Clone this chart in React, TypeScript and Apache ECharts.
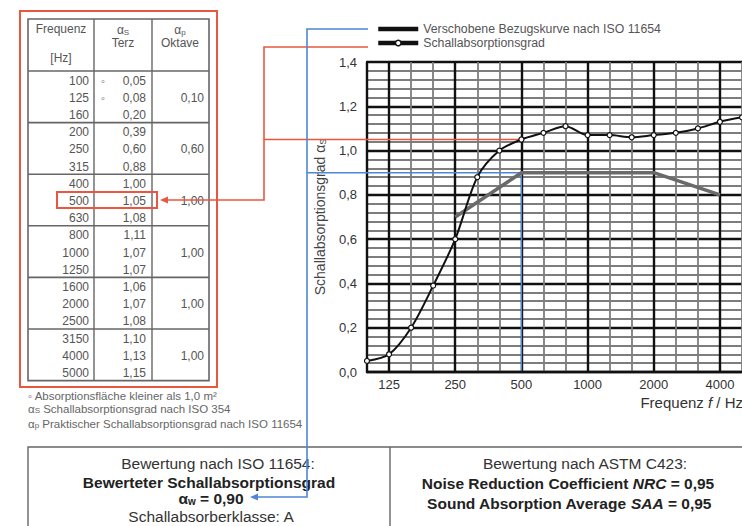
import React, { useEffect, useRef } from "react";
import * as echarts from "echarts";

// ---- data ----
const FREQS = ["100", "125", "160", "200", "250", "315", "400", "500", "630", "800", "1000", "1250", "1600", "2000", "2500", "3150", "4000", "5000"];
const ALPHA_S = [0.05, 0.08, 0.2, 0.39, 0.6, 0.88, 1.0, 1.05, 1.08, 1.11, 1.07, 1.07, 1.06, 1.07, 1.08, 1.1, 1.13, 1.15];
const SMALL_AREA = ["100", "125"];
const OCTAVE_FREQS = ["125", "250", "500", "1000", "2000", "4000"];
const ALPHA_P = [0.1, 0.6, 1.0, 1.0, 1.0, 1.0];
const REF_FREQS = ["250", "500", "1000", "2000", "4000"];
const REF_SHIFTED = [0.7, 0.9, 0.9, 0.9, 0.8];
const Y_MIN = 0;
const Y_MAX = 1.4;
const Y_STEP = 0.2;
const ALPHA_W = 0.9;
const NRC = 0.95;
const SAA = 0.95;
const HIGHLIGHT_FREQ = "500";
const REF_NAME = "Verschobene Bezugskurve nach ISO 11654";
const MEAS_NAME = "Schallabsorptionsgrad";

const FONT = "Liberation Sans, Arial, Helvetica, sans-serif";
const RED = "#e9573f";
const BLUE = "#4f86d6";

const f2 = (v: number) => v.toFixed(2).replace(".", ",");

export default function App() {
  const ref = useRef<HTMLDivElement>(null);

  useEffect(() => {
    if (!ref.current) return;
    const chart = echarts.init(ref.current, null, { renderer: "svg" });
    const octIdx = OCTAVE_FREQS.map((f) => FREQS.indexOf(f));

    chart.setOption({
      animation: false,
      textStyle: { fontFamily: FONT },
      grid: { left: 367, top: 62, width: 376, height: 310 },
      legend: {
        orient: "vertical",
        left: 376,
        top: 23,
        padding: 0,
        itemWidth: 40,
        itemHeight: 7,
        itemGap: 2,
        selectedMode: false,
        textStyle: { fontSize: 12.3, color: "#555", fontFamily: FONT },
        data: [
          { name: REF_NAME, lineStyle: { color: "#111", width: 4.5 }, itemStyle: { color: "#111", opacity: 0 } },
          { name: MEAS_NAME, lineStyle: { color: "#111", width: 4.5 }, itemStyle: { color: "#fff", borderColor: "#111", borderWidth: 1.5 } },
        ],
      },
      xAxis: [
        {
          type: "category",
          data: FREQS,
          boundaryGap: false,
          axisLine: { show: true, lineStyle: { color: "#111", width: 2.4 } },
          axisTick: { show: false },
          axisLabel: {
            interval: (i: number) => octIdx.includes(i),
            fontSize: 13,
            color: "#333",
            margin: 6,
            fontFamily: FONT,
          },
          splitLine: {
            show: true,
            interval: (i: number) => octIdx.includes(i),
            lineStyle: { color: "#111", width: 2.4 },
          },
          z: 1,
        },
        {
          type: "category",
          data: FREQS,
          boundaryGap: false,
          position: "top",
          axisLine: { show: false },
          axisTick: { show: false },
          axisLabel: { show: false },
          splitLine: {
            show: true,
            interval: (i: number) => !octIdx.includes(i),
            lineStyle: { color: "#7d7d7d", width: 1.8 },
          },
          z: 0,
        },
      ],
      yAxis: {
        type: "value",
        min: Y_MIN,
        max: Y_MAX,
        interval: Y_STEP,
        name: "{a|Schallabsorptionsgrad α}{s|S}",
        nameLocation: "middle",
        nameRotate: 90,
        nameGap: 40,
        nameTextStyle: {
          rich: {
            a: { fontSize: 14, color: "#444", fontFamily: FONT },
            s: { fontSize: 9, color: "#444", fontFamily: FONT, padding: [6, 0, 0, 0] },
          },
        },
        axisLine: { show: true, lineStyle: { color: "#111", width: 2.4 } },
        axisTick: { show: false },
        axisLabel: {
          fontSize: 13,
          color: "#333",
          margin: 10,
          fontFamily: FONT,
          formatter: (v: number) => v.toFixed(1).replace(".", ","),
        },
        splitLine: { show: true, lineStyle: { color: "#111", width: 2.4 } },
        minorTick: { show: false, splitNumber: 5 },
        minorSplitLine: { show: true, lineStyle: { color: "#7d7d7d", width: 1.8 } },
      },
      series: [
        {
          name: REF_NAME,
          type: "line",
          data: REF_FREQS.map((f, i) => [FREQS.indexOf(f), REF_SHIFTED[i]]),
          symbol: "none",
          color: "#6a6a6a",
          lineStyle: { color: "#6a6a6a", width: 3.5 },
          z: 3,
        },
        {
          name: MEAS_NAME,
          type: "line",
          data: ALPHA_S,
          smooth: 0.3,
          symbol: "circle",
          symbolSize: 5,
          color: "#111",
          itemStyle: { color: "#fff", borderColor: "#111", borderWidth: 1.2 },
          lineStyle: { color: "#111", width: 2 },
          z: 4,
        },
      ],
    });

    const hi = FREQS.indexOf(HIGHLIGHT_FREQ);
    const pW = chart.convertToPixel({ xAxisIndex: 0, yAxisIndex: 0 }, [hi, ALPHA_W]) as number[];
    const pS = chart.convertToPixel({ xAxisIndex: 0, yAxisIndex: 0 }, [hi, ALPHA_S[hi]]) as number[];
    const p0 = chart.convertToPixel({ xAxisIndex: 0, yAxisIndex: 0 }, [hi, Y_MIN]) as number[];

    // ---- table ----
    const T = { left: 28, right: 209, c1: 94, c2: 152, top: 19, head: 71, rowH: 17.2 };
    const bottom = T.head + FREQS.length * T.rowH;
    const tcol = "#555";
    const gfx: any[] = [];
    const txt = (x: number, y: number, text: string, o: any = {}) => ({
      type: "text",
      x,
      y,
      z: 5,
      style: {
        text,
        fill: o.fill || tcol,
        fontSize: o.fontSize || 12,
        fontFamily: FONT,
        fontWeight: o.fontWeight || "normal",
        align: o.align || "center",
        verticalAlign: "middle",
        lineHeight: o.lineHeight,
        rich: o.rich,
      },
    });
    const ln = (x1: number, y1: number, x2: number, y2: number, stroke: string, w: number, z = 5) => ({
      type: "line",
      z,
      shape: { x1, y1, x2, y2 },
      style: { stroke, lineWidth: w },
    });

    gfx.push({ type: "rect", z: 5, shape: { x: 20, y: 11, width: 197, height: 376 }, style: { fill: "none", stroke: RED, lineWidth: 2 } });
    gfx.push({ type: "rect", z: 5, shape: { x: T.left, y: T.top, width: T.right - T.left, height: bottom - T.top }, style: { fill: "none", stroke: "#666", lineWidth: 1.6 } });
    gfx.push(ln(T.c1, T.top, T.c1, bottom, "#666", 1.4));
    gfx.push(ln(T.c2, T.top, T.c2, bottom, "#666", 1.4));
    gfx.push(ln(T.left, T.head, T.right, T.head, "#666", 1.6));
    for (let g = 1; g < FREQS.length / 3; g++) {
      const y = T.head + g * 3 * T.rowH;
      gfx.push(ln(T.left, y, T.right, y, "#666", 1.6));
    }
    const subRich = {
      a: { fontSize: 12, fill: tcol, fontFamily: FONT },
      s: { fontSize: 8, fill: tcol, fontFamily: FONT, padding: [5, 0, 0, 0] },
    };
    gfx.push(txt(61, 29, "Frequenz"));
    gfx.push(txt(61, 58, "[Hz]"));
    gfx.push(txt(123, 30, "{a|α}{s|S}", { rich: subRich }));
    gfx.push(txt(123, 43, "Terz"));
    gfx.push(txt(180, 30, "{a|α}{s|p}", { rich: subRich }));
    gfx.push(txt(180, 43, "Oktave"));
    FREQS.forEach((f, i) => {
      const y = T.head + (i + 0.5) * T.rowH + 1;
      gfx.push(txt(89, y, f, { align: "right" }));
      gfx.push(txt(146, y, f2(ALPHA_S[i]), { align: "right" }));
      if (SMALL_AREA.includes(f)) gfx.push(txt(103, y, "◦", { fontSize: 11 }));
      const oi = OCTAVE_FREQS.indexOf(f);
      if (oi >= 0) gfx.push(txt(204, y, f2(ALPHA_P[oi]), { align: "right" }));
    });
    const hy = T.head + hi * T.rowH + 0.5;
    gfx.push({ type: "rect", z: 6, shape: { x: 57, y: hy, width: 100, height: T.rowH - 1 }, style: { fill: "none", stroke: RED, lineWidth: 2 } });

    // footnotes
    const fnRich = {
      a: { fontSize: 11.5, fill: "#666", fontFamily: FONT, lineHeight: 12 },
      s: { fontSize: 8, fill: "#666", fontFamily: FONT, padding: [3, 0, 0, 0], lineHeight: 12 },
    };
    gfx.push(txt(28, 396, "◦ Absorptionsfläche kleiner als 1,0 m²", { align: "left", fontSize: 11.5, fill: "#666", lineHeight: 12 }));
    gfx.push(txt(28, 409, "{a|α}{s|S}{a| Schallabsorptionsgrad nach ISO 354}", { align: "left", rich: fnRich, lineHeight: 12 }));
    gfx.push(txt(28, 424, "{a|α}{s|p}{a| Praktischer Schallabsorptionsgrad nach ISO 11654}", { align: "left", rich: fnRich, lineHeight: 12 }));

    // bottom box
    gfx.push({ type: "rect", z: 5, shape: { x: 28, y: 447, width: 800, height: 200 }, style: { fill: "none", stroke: "#666", lineWidth: 1.4 } });
    gfx.push(ln(390, 447, 390, 560, "#666", 1.4));
    const bt = "#333";
    const BS = 15.5;
    const bRich = {
      b: { fontSize: BS, fontWeight: "bold", fill: "#222", fontFamily: FONT },
      i: { fontSize: BS, fontWeight: "bold", fontStyle: "italic", fill: "#222", fontFamily: FONT },
      s: { fontSize: 10, fontWeight: "bold", fill: "#222", fontFamily: FONT, padding: [6, 0, 0, 0] },
    };
    gfx.push(txt(218, 463, "Bewertung nach ISO 11654:", { fontSize: BS, fill: bt }));
    gfx.push(txt(209, 482, "Bewerteter Schallabsorptionsgrad", { fontSize: BS, fontWeight: "bold", fill: "#222" }));
    gfx.push(txt(211, 498, `{b|α}{s|w}{b| = ${f2(ALPHA_W)}}`, { rich: bRich }));
    gfx.push(txt(211, 516, "Schallabsorberklasse: A", { fontSize: BS, fill: bt }));
    gfx.push(txt(585, 463, "Bewertung nach ASTM C423:", { fontSize: BS, fill: bt }));
    gfx.push(txt(568, 483, `{b|Noise Reduction Coefficient }{i|NRC}{b| = ${f2(NRC)}}`, { rich: bRich }));
    gfx.push(txt(569, 503, `{b|Sound Absorption Average }{i|SAA}{b| = ${f2(SAA)}}`, { rich: bRich }));

    // x axis name
    gfx.push(txt(743, 402, "{a|Frequenz }{i|f}{a| / Hz}", {
      align: "right",
      rich: {
        a: { fontSize: 15, fill: "#333", fontFamily: FONT },
        i: { fontSize: 15, fontStyle: "italic", fill: "#333", fontFamily: FONT },
      },
    }));

    // red connectors
    const redY = hy + (T.rowH - 1) / 2;
    gfx.push({ type: "polyline", z: 6, shape: { points: [[368, 47], [264, 47], [264, redY], [167, redY]] }, style: { stroke: RED, lineWidth: 1.6, fill: "none" } });
    gfx.push({ type: "polygon", z: 6, shape: { points: [[160, redY], [168, redY - 3.5], [168, redY + 3.5]] }, style: { fill: RED } });
    gfx.push(ln(264, pS[1], pS[0], pS[1], RED, 1.6, 1));

    // blue connectors
    gfx.push({ type: "polyline", z: 6, shape: { points: [[368, 29], [307, 29], [307, 497], [257, 497]] }, style: { stroke: BLUE, lineWidth: 1.6, fill: "none" } });
    gfx.push({ type: "polygon", z: 6, shape: { points: [[250, 497], [258, 493.5], [258, 500.5]] }, style: { fill: BLUE } });
    gfx.push({ type: "polyline", z: 1, shape: { points: [[307, pW[1]], [pW[0], pW[1]], [p0[0], p0[1]]] }, style: { stroke: BLUE, lineWidth: 1.4, fill: "none" } });

    chart.setOption({ graphic: gfx });

    return () => chart.dispose();
  }, []);

  return <div ref={ref} style={{ position: "fixed", left: 0, top: 0, width: 742, height: 526, background: "#fff" }} />;
}
